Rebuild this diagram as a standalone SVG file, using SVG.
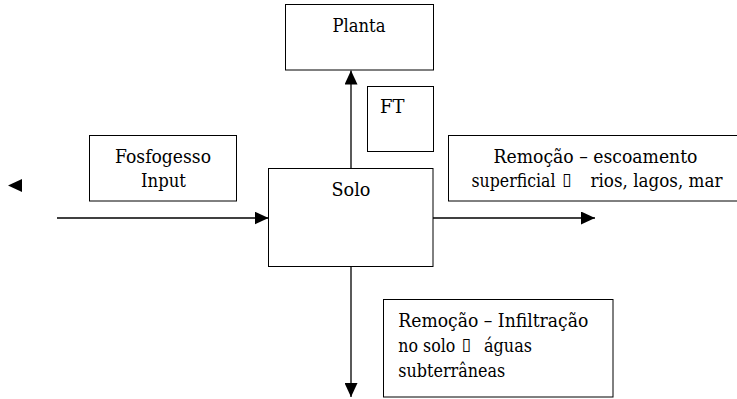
<svg xmlns="http://www.w3.org/2000/svg" width="737" height="399" viewBox="0 0 737 399">
<style>
.box{fill:#fff;stroke:#000;stroke-width:1}
text{font-family:'DejaVu Serif','Liberation Serif',serif;font-size:18px;fill:#000}
.c{text-anchor:middle}
.tofu{font-family:'DejaVu Sans',sans-serif;font-size:17px}
.ln{stroke:#000;stroke-width:1.3;fill:none}
</style>
<defs>
<marker id="ah" markerUnits="userSpaceOnUse" markerWidth="14" markerHeight="13" refX="14" refY="6.5" orient="auto">
<path d="M0,0 L14,6.5 L0,13 Z" fill="#000"/>
</marker>
</defs>
<rect width="737" height="399" fill="#fff"/>
<g id="connectors">
<line class="ln" x1="351" y1="168" x2="351" y2="70.5" marker-end="url(#ah)"/>
<line class="ln" x1="57" y1="218" x2="268.5" y2="218" marker-end="url(#ah)"/>
<line class="ln" x1="433" y1="218" x2="595" y2="218" marker-end="url(#ah)"/>
<line class="ln" x1="351" y1="266" x2="351" y2="397" marker-end="url(#ah)"/>
<path d="M8,185.5 L22,179 L22,192 Z" fill="#000"/>
</g>
<g id="planta">
<rect class="box" x="285.5" y="4.5" width="148" height="65.5"/>
<text class="c" x="359" y="31.5" textLength="53" lengthAdjust="spacingAndGlyphs">Planta</text>
</g>
<g id="ft">
<rect class="box" x="367.5" y="86.5" width="66" height="65"/>
<text x="380" y="113" textLength="24.5" lengthAdjust="spacingAndGlyphs">FT</text>
</g>
<g id="fosfogesso">
<rect class="box" x="89.5" y="135.5" width="147" height="65.5"/>
<text class="c" x="163" y="163" textLength="96" lengthAdjust="spacingAndGlyphs">Fosfogesso</text>
<text class="c" x="163.5" y="187" textLength="45" lengthAdjust="spacingAndGlyphs">Input</text>
</g>
<g id="solo">
<rect class="box" x="268.5" y="168.5" width="164.5" height="98"/>
<text class="c" x="351" y="195.5" textLength="39" lengthAdjust="spacingAndGlyphs">Solo</text>
</g>
<g id="escoamento">
<rect class="box" x="448.5" y="135.5" width="296" height="65.5"/>
<text x="493.5" y="163" textLength="204" lengthAdjust="spacingAndGlyphs">Remoção – escoamento</text>
<text y="187"><tspan x="471.5" textLength="84" lengthAdjust="spacingAndGlyphs">superficial</tspan><tspan class="tofu" x="562" dy="-2">▯</tspan><tspan x="590.5" dy="2" textLength="132" lengthAdjust="spacingAndGlyphs">rios, lagos, mar</tspan></text>
</g>
<g id="infiltracao">
<rect class="box" x="383.5" y="299.5" width="229.5" height="97.5"/>
<text x="398.3" y="327" textLength="190" lengthAdjust="spacingAndGlyphs">Remoção – Infiltração</text>
<text y="352"><tspan x="398.3" textLength="57" lengthAdjust="spacingAndGlyphs">no solo</tspan><tspan class="tofu" x="461.5" dy="-2">▯</tspan><tspan x="484" dy="2" textLength="48" lengthAdjust="spacingAndGlyphs">águas</tspan></text>
<text x="398.3" y="377" textLength="107" lengthAdjust="spacingAndGlyphs">subterrâneas</text>
</g>
</svg>
